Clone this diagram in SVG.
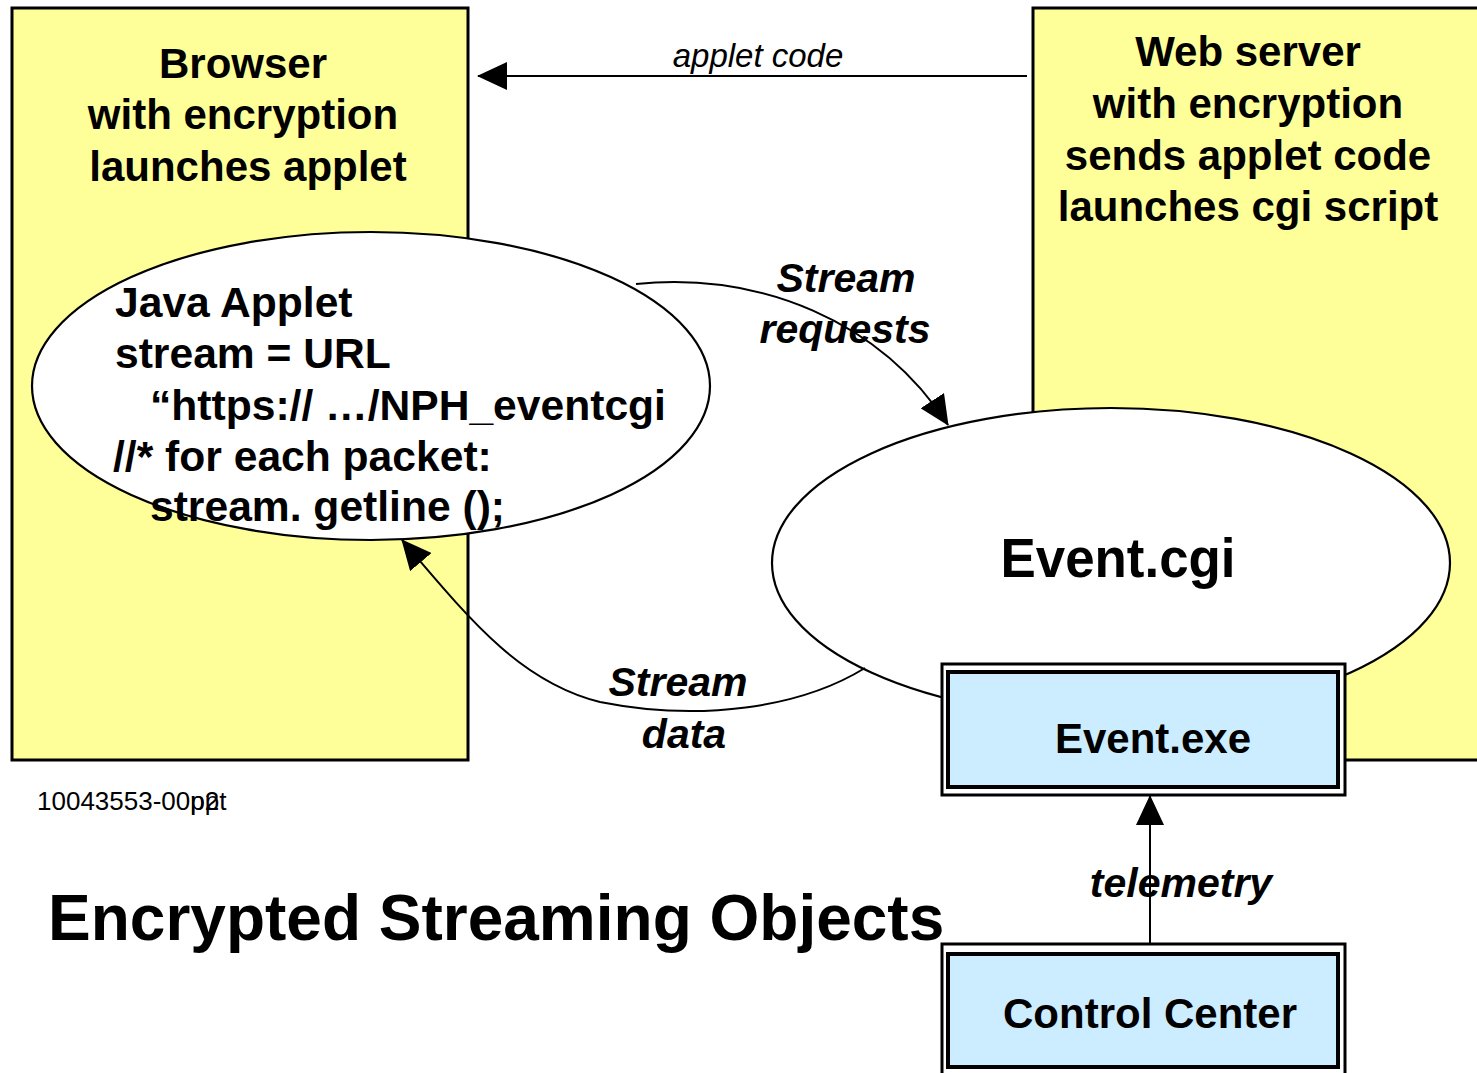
<svg xmlns="http://www.w3.org/2000/svg" width="1477" height="1073" viewBox="0 0 1477 1073">
  <style>
    text { font-family: "Liberation Sans", Arial, sans-serif; fill: #000; }
    .box { fill: #FFFF99; stroke: #000; stroke-width: 3; }
    .oval { fill: #FFFFFF; stroke: #000; stroke-width: 2.2; }
    .frame { fill: #FFFFFF; stroke: #000; stroke-width: 3; }
    .panel { fill: #CCECFF; stroke: #000; stroke-width: 4; }
    .head { font-size: 42px; font-weight: bold; text-anchor: middle; }
    .code { font-size: 42.6px; font-weight: bold; }
    .lbl { font-size: 41px; font-weight: bold; font-style: italic; text-anchor: middle; }
    .wire { fill: none; stroke: #000; stroke-width: 2; }
  </style>
  <defs>
    <marker id="head" viewBox="0 0 30 28" markerWidth="30" markerHeight="28" refX="29" refY="14" orient="auto" markerUnits="userSpaceOnUse">
      <path d="M0,0 L30,14 L0,28 z" fill="#000"/>
    </marker>
  </defs>

  <rect width="1477" height="1073" fill="#FFFFFF"/>

  <!-- Browser -->
  <g id="browser">
    <rect class="box" x="12" y="8" width="456" height="752"/>
    <text class="head" x="243" y="78">Browser</text>
    <text class="head" x="243" y="129">with encryption</text>
    <text class="head" x="248" y="181">launches applet</text>
  </g>

  <!-- Web server -->
  <g id="webserver">
    <rect class="box" x="1033" y="8" width="460" height="752"/>
    <text class="head" x="1248" y="66">Web server</text>
    <text class="head" x="1248" y="118">with encryption</text>
    <text class="head" x="1248" y="170">sends applet code</text>
    <text class="head" x="1248" y="221">launches cgi script</text>
  </g>

  <!-- Java applet -->
  <g id="applet">
    <ellipse class="oval" cx="371" cy="386" rx="339" ry="154"/>
    <text class="code" x="115" y="317">Java Applet</text>
    <text class="code" x="115" y="368">stream = URL</text>
    <text class="code" x="150" y="420">“https:// …/NPH_eventcgi</text>
    <text class="code" x="113" y="471">//* for each packet:</text>
    <text class="code" x="150" y="521">stream. getline ();</text>
  </g>

  <!-- CGI process -->
  <g id="eventcgi">
    <ellipse class="oval" cx="1111" cy="563" rx="339" ry="155"/>
    <text x="1118" y="577" font-size="56" font-weight="bold" text-anchor="middle" textLength="235" lengthAdjust="spacingAndGlyphs">Event.cgi</text>
  </g>

  <!-- Executable -->
  <g id="eventexe">
    <rect class="frame" x="942" y="664" width="403" height="131"/>
    <rect class="panel" x="948" y="672" width="390" height="115"/>
    <text class="head" x="1153" y="753" font-size="41">Event.exe</text>
  </g>

  <!-- Control center -->
  <g id="controlcenter">
    <rect class="frame" x="942" y="944" width="403" height="145"/>
    <rect class="panel" x="948" y="954" width="390" height="113"/>
    <text class="head" x="1150" y="1028">Control Center</text>
  </g>

  <!-- Connector labels -->
  <g id="labels">
    <text x="758" y="67" font-size="33" font-style="italic" text-anchor="middle">applet code</text>
    <text class="lbl" x="846" y="292">Stream</text>
    <text class="lbl" x="845" y="343">requests</text>
    <text class="lbl" x="678" y="696">Stream</text>
    <text class="lbl" x="684" y="748">data</text>
    <text class="lbl" x="1181" y="897" font-size="40">telemetry</text>
  </g>

  <!-- Connectors -->
  <g id="connectors">
    <path class="wire" d="M1027,76 L478,76" marker-end="url(#head)"/>
    <path class="wire" d="M636,284 C760,272 880,320 948,425" marker-end="url(#head)"/>
    <path class="wire" d="M865,668 C800,708 700,722 600,702 C520,682 470,620 402,540" marker-end="url(#head)"/>
    <path class="wire" d="M1150,944 L1150,796" marker-end="url(#head)"/>
  </g>

  <!-- Title and file tag (file tag has two names printed over each other) -->
  <g id="caption">
    <text x="48" y="940" font-size="64" font-weight="bold">Encrypted Streaming Objects</text>
    <text x="37" y="810" font-size="26">10043553-00ppt<tspan dx="-36.1">p2</tspan></text>
  </g>
</svg>
